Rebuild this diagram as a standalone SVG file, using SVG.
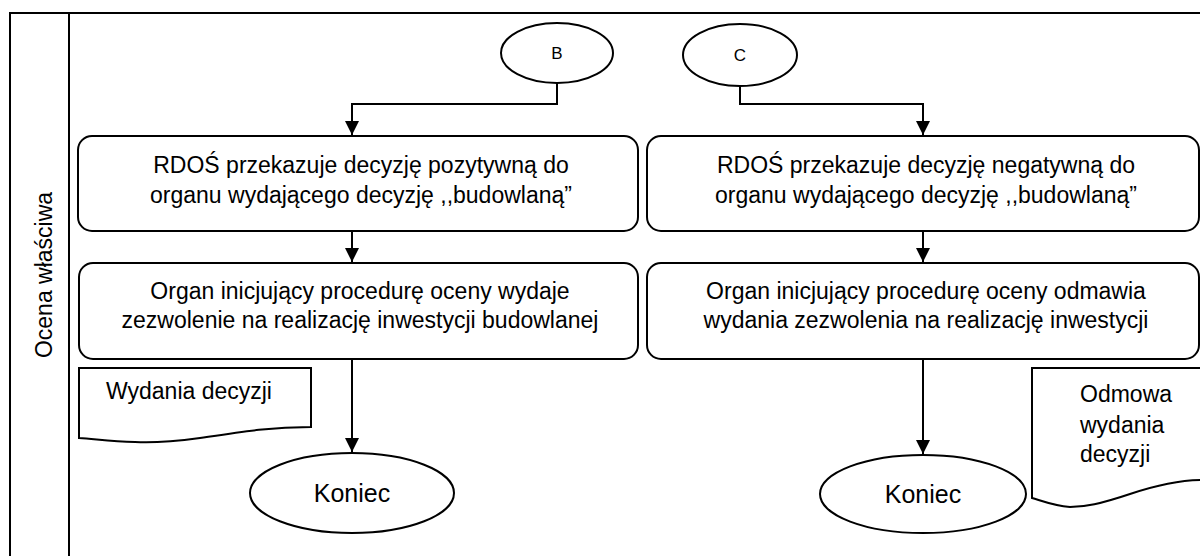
<svg xmlns="http://www.w3.org/2000/svg" width="1200" height="556" viewBox="0 0 1200 556">
<style>
.t{font-family:"Liberation Sans",Arial,sans-serif;fill:#000;font-size:23px;}
.s{font-size:17px;}
.k{font-size:25px;}
.box{fill:#fff;stroke:#000;stroke-width:2;}
.ln{fill:none;stroke:#000;stroke-width:2;}
</style>
<defs>
<marker id="ah" viewBox="0 0 10 10" refX="10" refY="5" markerWidth="14" markerHeight="14" markerUnits="userSpaceOnUse" orient="auto">
<path d="M0,0 L10,5 L0,10 z" fill="#000"/>
</marker>
</defs>
<rect width="1200" height="556" fill="#fff"/>
<g id="frame">
<path class="ln" d="M10,556 V13 H1200"/>
<path class="ln" d="M69,13 V556"/>
<text class="t" text-anchor="middle" transform="translate(52,275) rotate(-90)">Ocena właściwa</text>
</g>
<g id="connectors">
<path class="ln" d="M557,83 V104 H352 V135" marker-end="url(#ah)"/>
<path class="ln" d="M740,86 V104 H923 V135" marker-end="url(#ah)"/>
<path class="ln" d="M352,231 V262" marker-end="url(#ah)"/>
<path class="ln" d="M923,231 V262" marker-end="url(#ah)"/>
<path class="ln" d="M352,360 V452" marker-end="url(#ah)"/>
<path class="ln" d="M923,360 V454" marker-end="url(#ah)"/>
</g>
<g id="nodeB">
<ellipse class="box" cx="557" cy="53" rx="56" ry="30"/>
<text class="t s" text-anchor="middle" x="557" y="59">B</text>
</g>
<g id="nodeC">
<ellipse class="box" cx="740" cy="55" rx="57" ry="31"/>
<text class="t s" text-anchor="middle" x="740" y="61">C</text>
</g>
<g id="box1L">
<rect class="box" x="78" y="136" width="560" height="95" rx="14"/>
<text class="t" text-anchor="middle" x="361" y="173">RDOŚ przekazuje decyzję pozytywną do</text>
<text class="t" text-anchor="middle" x="361" y="203">organu wydającego decyzję ,,budowlaną”</text>
</g>
<g id="box1R">
<rect class="box" x="647" y="136" width="552" height="95" rx="14"/>
<text class="t" text-anchor="middle" x="926" y="173">RDOŚ przekazuje decyzję negatywną do</text>
<text class="t" text-anchor="middle" x="926" y="203">organu wydającego decyzję ,,budowlaną”</text>
</g>
<g id="box2L">
<rect class="box" x="79" y="263" width="559" height="96" rx="14"/>
<text class="t" text-anchor="middle" x="360" y="299">Organ inicjujący procedurę oceny wydaje</text>
<text class="t" text-anchor="middle" x="360" y="328">zezwolenie na realizację inwestycji budowlanej</text>
</g>
<g id="box2R">
<rect class="box" x="647" y="263" width="552" height="96" rx="14"/>
<text class="t" text-anchor="middle" x="926" y="299">Organ inicjujący procedurę oceny odmawia</text>
<text class="t" text-anchor="middle" x="926" y="328">wydania zezwolenia na realizację inwestycji</text>
</g>
<g id="docL">
<path class="box" d="M79,368 H311 V427 C270,427 240,432 200,438 C170,442 150,443 135,442 C110,441 95,439 79,438 Z"/>
<text class="t" x="106" y="399">Wydania decyzji</text>
</g>
<g id="docR">
<path class="box" d="M1032,368 H1202 V480 C1180,480 1160,484 1130,494 C1100,504 1085,507 1070,507 C1055,506 1045,502 1032,498 Z"/>
<text class="t" x="1080" y="402">Odmowa</text>
<text class="t" x="1080" y="433">wydania</text>
<text class="t" x="1080" y="462">decyzji</text>
</g>
<g id="endL">
<ellipse class="box" cx="352" cy="493" rx="102" ry="40"/>
<text class="t k" text-anchor="middle" x="352" y="502">Koniec</text>
</g>
<g id="endR">
<ellipse class="box" cx="923" cy="494" rx="103" ry="39"/>
<text class="t k" text-anchor="middle" x="923" y="503">Koniec</text>
</g>
</svg>
